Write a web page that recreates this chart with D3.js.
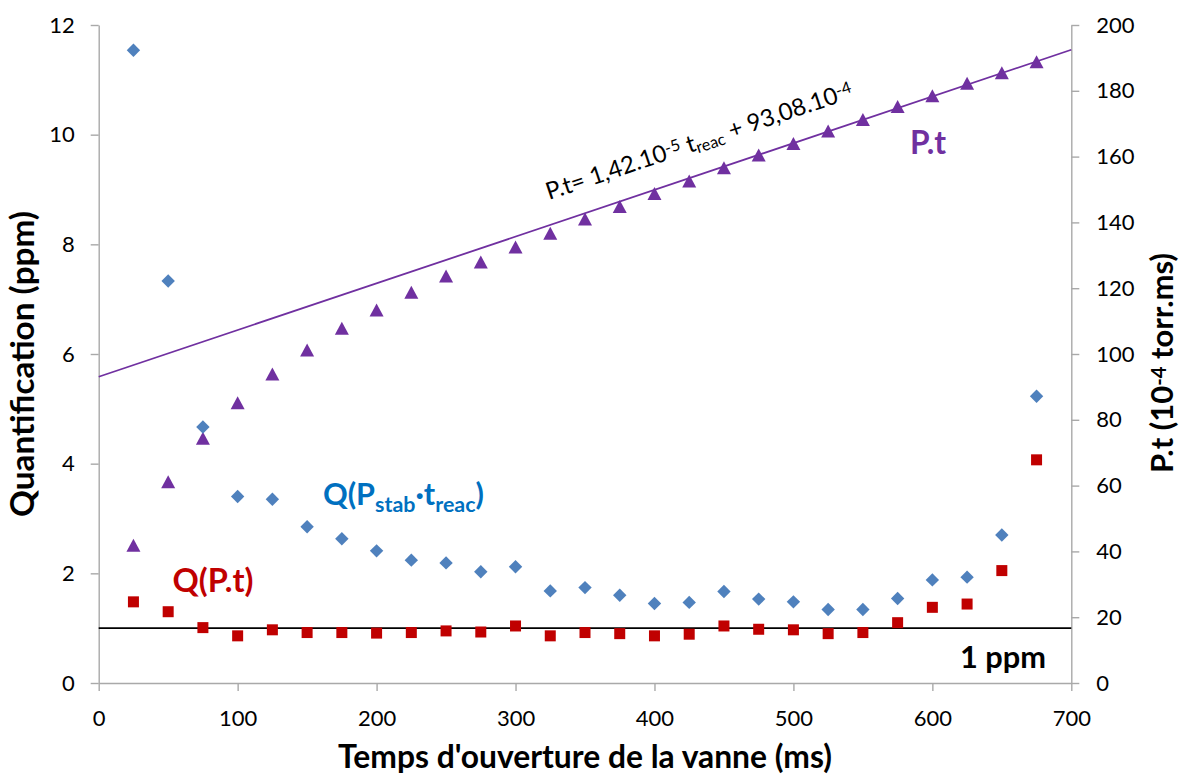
<!DOCTYPE html>
<html>
<head>
<meta charset="utf-8">
<script src="https://cdn.jsdelivr.net/npm/d3@7"></script>
<style>
  html, body { margin: 0; padding: 0; background: #fff; }
  svg { display: block; font-family: Lato, "Open Sans", sans-serif; }
</style>
</head>
<body>
<script>
// ---- data ----
const times = [25,50,75,100,125,150,175,200,225,250,275,300,325,350,375,400,425,450,475,500,525,550,575,600,625,650,675];
const qStab = [11.54,7.33,4.67,3.40,3.35,2.85,2.63,2.41,2.24,2.19,2.03,2.12,1.68,1.74,1.60,1.45,1.47,1.67,1.53,1.48,1.34,1.34,1.54,1.88,1.93,2.70,5.23];
const qPt   = [1.48,1.30,1.01,0.86,0.97,0.92,0.92,0.91,0.92,0.95,0.93,1.04,0.86,0.92,0.90,0.86,0.89,1.04,0.98,0.97,0.90,0.92,1.10,1.38,1.44,2.05,4.07];
const ptVals = [41.9,61.2,74.4,85.2,93.9,101.2,107.8,113.4,118.8,123.7,128.0,132.5,136.7,141.0,144.8,148.8,152.6,156.6,160.5,164.0,167.8,171.3,175.2,178.5,182.3,185.5,188.8];
const trendSlope = 0.142;      // 1,42.10^-5 per ms, in 10^-4 units
const trendIntercept = 93.08;  // 93,08.10^-4
const refLevel = 1;            // 1 ppm
const xTicks = [0,100,200,300,400,500,600,700];
const yLeftTicks = [0,2,4,6,8,10,12];
const yRightTicks = [0,20,40,60,80,100,120,140,160,180,200];

// ---- layout ----
const W = 1180, H = 774;
const svg = d3.select("body").append("svg").attr("width", W).attr("height", H);

const x = d3.scaleLinear().domain([0, 700]).range([98.7, 1071.3]);
const yL = d3.scaleLinear().domain([0, 12]).range([683, 25]);
const yR = d3.scaleLinear().domain([0, 200]).range([683, 25]);

// size a text element so that its advance width equals target
function fit(sel, target) {
  sel.style("font-size", "100px");
  const L = sel.node().getComputedTextLength();
  sel.style("font-size", (100 * target / L) + "px");
  return sel;
}

const axisColor = "#a9a9a9";
function styleAxis(g) {
  g.select(".domain").attr("stroke", axisColor).attr("stroke-width", 1.4);
  g.selectAll(".tick line").attr("stroke", axisColor).attr("stroke-width", 1.4);
  g.selectAll(".tick text").attr("fill", "#000").style("font-size", "22px").style("font-family", "Lato, sans-serif");
}

svg.append("g").attr("transform", `translate(0,${yL(0)})`)
  .call(d3.axisBottom(x).tickValues(xTicks).tickSizeInner(8).tickSizeOuter(0).tickPadding(19).tickFormat(d3.format("d")))
  .call(styleAxis);
svg.append("g").attr("transform", `translate(${x(0)},0)`)
  .call(d3.axisLeft(yL).tickValues(yLeftTicks).tickSizeInner(8).tickSizeOuter(0).tickPadding(16).tickFormat(d3.format("d")))
  .call(styleAxis);
svg.append("g").attr("transform", `translate(${x(700)},0)`)
  .call(d3.axisRight(yR).tickValues(yRightTicks).tickSizeInner(8).tickSizeOuter(0).tickPadding(17).tickFormat(d3.format("d")))
  .call(styleAxis);

// reference line 1 ppm
svg.append("line")
  .attr("x1", x(0)).attr("x2", x(700))
  .attr("y1", yL(refLevel)).attr("y2", yL(refLevel))
  .attr("stroke", "#000").attr("stroke-width", 1.6);

// trend line
svg.append("line")
  .attr("x1", x(0)).attr("x2", x(700))
  .attr("y1", yR(trendIntercept)).attr("y2", yR(trendIntercept + trendSlope * 700))
  .attr("stroke", "#7030a0").attr("stroke-width", 1.8);

// markers
const purple = "#7030a0", blue = "#4f81bd", red = "#c00000";

svg.append("g").selectAll("path").data(times.map((t, i) => [t, ptVals[i]])).join("path")
  .attr("d", d => {
    const cx = x(d[0]), cy = yR(d[1]);
    return `M${cx},${cy - 6.5}L${cx + 7},${cy + 6.5}L${cx - 7},${cy + 6.5}Z`;
  })
  .attr("fill", purple);

svg.append("g").selectAll("path").data(times.map((t, i) => [t, qStab[i]])).join("path")
  .attr("d", d => {
    const cx = x(d[0]), cy = yL(d[1]), r = 6.7;
    return `M${cx},${cy - r}L${cx + r},${cy}L${cx},${cy + r}L${cx - r},${cy}Z`;
  })
  .attr("fill", blue);

svg.append("g").selectAll("rect").data(times.map((t, i) => [t, qPt[i]])).join("rect")
  .attr("x", d => x(d[0]) - 5.5).attr("y", d => yL(d[1]) - 5.5)
  .attr("width", 11).attr("height", 11)
  .attr("fill", red);

// ---- titles ----
fit(svg.append("text")
  .attr("transform", `translate(34,364) rotate(-90)`)
  .attr("text-anchor", "middle")
  .style("font-weight", "bold")
  .text("Quantification (ppm)"), 306);

fit(svg.append("text")
  .attr("x", 585).attr("y", 768)
  .attr("text-anchor", "middle")
  .style("font-weight", "bold")
  .text("Temps d'ouverture de la vanne (ms)"), 494);

const rt = svg.append("text")
  .attr("transform", `translate(1173,363) rotate(-90)`)
  .attr("text-anchor", "middle")
  .style("font-weight", "bold");
rt.append("tspan").text("P.t (10");
rt.append("tspan").attr("dy", "-0.35em").style("font-size", "0.65em").text("-4");
rt.append("tspan").attr("dy", "0.23em").text(" torr.ms)");
fit(rt, 220);

// ---- annotations ----
const angle = -Math.atan((yR(trendIntercept) - yR(trendIntercept + trendSlope * 700)) / (x(700) - x(0))) * 180 / Math.PI;
const eq = svg.append("text")
  .attr("transform", `translate(549,200) rotate(${angle})`)
  .attr("fill", "#000");
eq.append("tspan").text("P.t= 1,42.10");
eq.append("tspan").attr("dy", "-0.36em").style("font-size", "0.68em").text("-5");
eq.append("tspan").attr("dy", "0.245em").text(" t");
eq.append("tspan").attr("dy", "0.2em").style("font-size", "0.68em").text("reac");
eq.append("tspan").attr("dy", "-0.136em").text(" + 93,08.10");
eq.append("tspan").attr("dy", "-0.36em").style("font-size", "0.68em").text("-4");
fit(eq, 322);

fit(svg.append("text").attr("x", 910).attr("y", 154)
  .style("font-weight", "bold").attr("fill", purple)
  .text("P.t"), 36);

const qs = svg.append("text").attr("x", 323).attr("y", 505)
  .style("font-weight", "bold").attr("fill", "#0070c0");
qs.append("tspan").text("Q(P");
qs.append("tspan").attr("dy", "0.33em").style("font-size", "0.7em").text("stab");
qs.append("tspan").attr("dy", "-0.23em").text("·t");
qs.append("tspan").attr("dy", "0.33em").style("font-size", "0.7em").text("reac");
qs.append("tspan").attr("dy", "-0.23em").text(")");
fit(qs, 161);

fit(svg.append("text").attr("x", 172.5).attr("y", 592)
  .style("font-weight", "bold").attr("fill", red)
  .text("Q(P.t)"), 81);

fit(svg.append("text").attr("x", 960).attr("y", 668)
  .style("font-weight", "bold").attr("fill", "#000")
  .text("1 ppm"), 86);
</script>
</body>
</html>
